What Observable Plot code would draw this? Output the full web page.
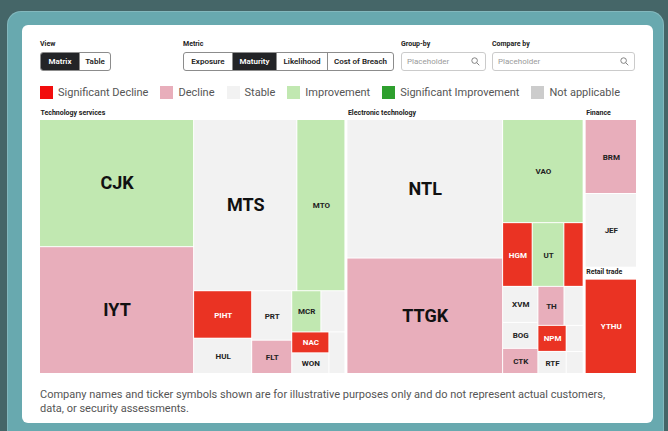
<!DOCTYPE html>
<html>
<head>
<meta charset="utf-8">
<script src="https://cdn.jsdelivr.net/npm/d3@7"></script>
<script src="https://cdn.jsdelivr.net/npm/@observablehq/plot@0.6"></script>
<style>
  html, body { margin: 0; padding: 0; }
  body { width: 668px; height: 431px; background: #456668; overflow: hidden; position: relative; font-family: Roboto, "Noto Sans", sans-serif; }
  #frame { position: absolute; left: 7px; top: 11px; width: 657px; height: 440px; background: #68a9af; border-radius: 14px; box-shadow: inset 0 0 0 1px rgba(255,255,255,0.18); }
  #card { position: absolute; left: 22px; top: 25px; width: 631px; height: 398px; background: #fff; border-radius: 6px; }
  .lbl { position: absolute; font-size: 7px; font-weight: 700; color: #222; line-height: 8px; }
  .grp { position: absolute; top: 52px; height: 17px; display: flex; border: 1px solid #8c8c8c; border-radius: 3px; overflow: hidden; background: #fff; }
  .grp div { font-size: 8px; font-weight: 600; color: #222; display: flex; align-items: center; justify-content: center; box-sizing: border-box; }
  .grp div + div { border-left: 1px solid #8c8c8c; }
  .grp div.on { background: #232427; color: #fff; }
  .inp { position: absolute; top: 52px; height: 17px; border: 1px solid #cbcbcb; border-radius: 3px; background: #fff; }
  .inp span { position: absolute; left: 5px; top: 0; line-height: 17px; font-size: 8px; color: #9a9a9a; }
  .inp svg { position: absolute; right: 5px; top: 4px; }
  #legend { position: absolute; left: 40px; top: 85px; display: flex; align-items: center; height: 14px; }
  #legend .it { display: flex; align-items: center; margin-right: 12px; }
  #legend .sw { width: 13px; height: 13px; margin-right: 5px; }
  #legend .tx { font-size: 11px; color: #555; }
  #chart { position: absolute; left: 40px; top: 104px; }
  #caption { position: absolute; left: 40px; top: 388px; width: 575px; font-size: 11px; line-height: 14px; color: #555; }
</style>
</head>
<body>
<div id="frame"></div>
<div id="card"></div>

<div class="lbl" style="left:40px;top:40px">View</div>
<div class="grp" style="left:40px;width:69px">
  <div class="on" style="width:38px">Matrix</div>
  <div style="width:31px">Table</div>
</div>

<div class="lbl" style="left:183px;top:40px">Metric</div>
<div class="grp" style="left:183px;width:209px">
  <div style="width:48px">Exposure</div>
  <div class="on" style="width:44px">Maturity</div>
  <div style="width:51px">Likelihood</div>
  <div style="width:66px">Cost of Breach</div>
</div>

<div class="lbl" style="left:401px;top:40px">Group-by</div>
<div class="inp" style="left:401px;width:83px"><span>Placeholder</span>
  <svg width="9" height="9" viewBox="0 0 9 9"><circle cx="3.6" cy="3.6" r="2.8" fill="none" stroke="#777" stroke-width="0.9"/><line x1="5.7" y1="5.7" x2="8.3" y2="8.3" stroke="#777" stroke-width="0.9"/></svg>
</div>
<div class="lbl" style="left:492px;top:40px">Compare by</div>
<div class="inp" style="left:492px;width:141px"><span>Placeholder</span>
  <svg width="9" height="9" viewBox="0 0 9 9"><circle cx="3.6" cy="3.6" r="2.8" fill="none" stroke="#777" stroke-width="0.9"/><line x1="5.7" y1="5.7" x2="8.3" y2="8.3" stroke="#777" stroke-width="0.9"/></svg>
</div>

<div id="legend"></div>
<div id="chart"></div>
<div id="caption">Company names and ticker symbols shown are for illustrative purposes only and do not represent actual customers, data, or security assessments.</div>

<script>
// ---- data ----
const statuses = ["Significant Decline", "Decline", "Stable", "Improvement", "Significant Improvement", "Not applicable"];
const cellColors = ["#ea3323", "#e8aebb", "#f2f2f2", "#c1e8b1", "#2e9f2e", "#cccccc"];
const swatchColors = ["#f20d0d", "#e8aebb", "#f2f2f2", "#c1e8b1", "#2e9f2e", "#cccccc"];

const sectors = ["Technology services", "Electronic technology", "Finance", "Retail trade"];

const names = [
  "CJK", "IYT", "MTS", "MTO", "PIHT", "HUL", "PRT", "FLT", "MCR", "", "NAC", "WON", "",
  "NTL", "TTGK", "VAO", "HGM", "UT", "", "XVM", "BOG", "CTK", "TH", "", "NPM", "RTF", "", "",
  "BRM", "JEF",
  "YTHU"
];
const sectorIndex = [
  0, 0, 0, 0, 0, 0, 0, 0, 0, 0, 0, 0, 0,
  1, 1, 1, 1, 1, 1, 1, 1, 1, 1, 1, 1, 1, 1, 1,
  2, 2,
  3
];
const statusIndex = [
  3, 1, 2, 3, 0, 2, 2, 1, 3, 2, 0, 2, 2,
  2, 1, 3, 0, 3, 0, 2, 2, 1, 1, 2, 0, 2, 2, 2,
  1, 2,
  0
];
const values = [
  1940, 1935, 1750, 815, 273, 203, 196, 132, 119, 98, 77, 76, 66,
  2139, 1783, 824, 187, 200, 122, 126, 91, 88, 101, 74, 73, 62, 44, 37,
  401, 399,
  533
];

// ---- legend ----
const legend = document.getElementById("legend");
statuses.forEach((s, i) => {
  const it = document.createElement("div");
  it.className = "it";
  it.innerHTML = `<div class="sw" style="background:${swatchColors[i]}"></div><div class="tx">${s}</div>`;
  legend.appendChild(it);
});

// ---- hierarchy & layout ----
const tree = {
  children: sectors.map((s, si) => ({
    name: s,
    children: names.map((n, i) => ({name: n, status: statuses[statusIndex[i]], value: values[i], sector: sectorIndex[i]}))
      .filter(d => d.sector === si)
  }))
};

const W = 596, H = 263, F = 0.8;
function tile(node, x0, y0, x1, y1) {
  d3.treemapSquarify(node, x0, y0 * F, x1, y1 * F);
  for (const c of node.children) { c.y0 /= F; c.y1 /= F; }
}
const root = d3.hierarchy(tree).sum(d => d.children ? 0 : d.value);
d3.treemap()
  .size([W, H])
  .tile(tile)
  .paddingInner(d => d.depth === 0 ? 3 : 1)
  .paddingTop(d => d.depth === 1 ? 10 : 0)
  .round(false)(root);

const leaves = root.leaves().map(d => ({
  name: d.data.name, status: d.data.status, value: d.data.value,
  x0: d.x0, x1: d.x1, y0: d.y0, y1: d.y1
}));
const groups = root.children.map(d => ({name: d.data.name, x0: d.x0, y0: d.y0}));

const big = d => d.value >= 1000;
const fits = d => {
  const fs = big(d) ? 18 : 8;
  return d.name && (d.x1 - d.x0) >= d.name.length * fs * 0.72 + 5 && (d.y1 - d.y0) >= fs + 4;
};
const isRed = d => d.status === "Significant Decline";

const chart = Plot.plot({
  width: 600, height: 271,
  marginLeft: 0, marginRight: 4, marginTop: 6, marginBottom: 2,
  x: {domain: [0, W], range: [0, W], axis: null},
  y: {domain: [0, H], range: [6, 6 + H], axis: null},
  color: {type: "ordinal", domain: statuses, range: cellColors},
  style: {fontFamily: "Roboto, sans-serif", background: "transparent", overflow: "visible"},
  marks: [
    Plot.rect(leaves, {x1: "x0", x2: "x1", y1: "y0", y2: "y1", fill: "status"}),
    Plot.text(leaves, {
      filter: d => fits(d) && big(d),
      x: d => (d.x0 + d.x1) / 2, y: d => (d.y0 + d.y1) / 2,
      text: "name", fontSize: 18, fontWeight: 700, fill: "#111"
    }),
    Plot.text(leaves, {
      filter: d => fits(d) && !big(d),
      x: d => (d.x0 + d.x1) / 2, y: d => (d.y0 + d.y1) / 2,
      text: "name", fontSize: 8, fontWeight: 700, fill: d => isRed(d) ? "white" : "#222"
    }),
    Plot.text(groups, {
      x: "x0", y: d => d.y0 + 2, text: "name",
      textAnchor: "start", fontSize: 7, fontWeight: 700, fill: "#222"
    })
  ]
});
document.getElementById("chart").appendChild(chart);
</script>
</body>
</html>
